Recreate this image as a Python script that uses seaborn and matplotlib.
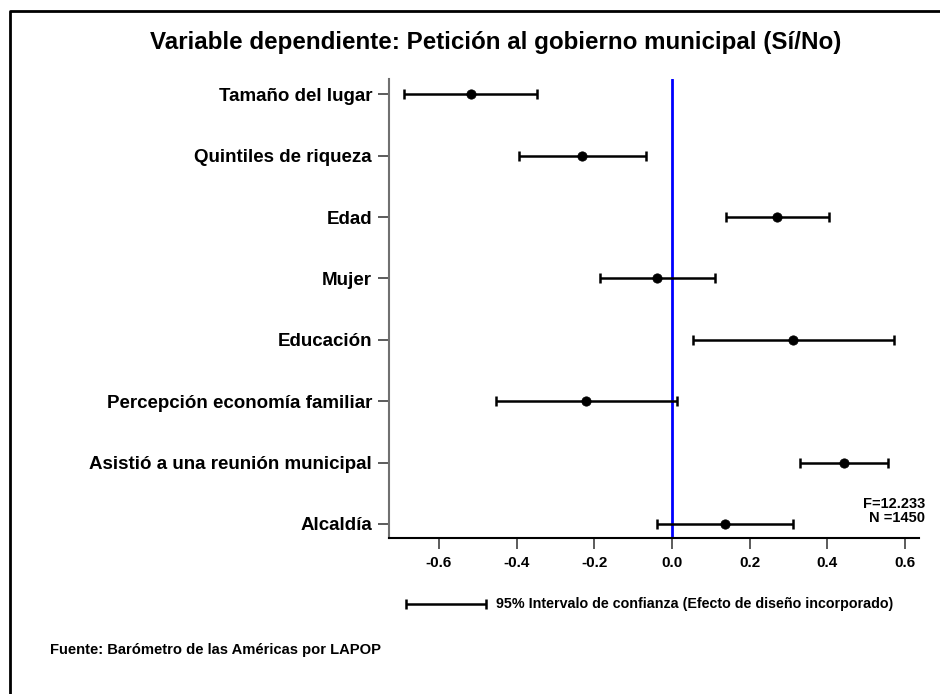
import pandas as pd
import matplotlib.pyplot as plt
import matplotlib.lines as mlines
import seaborn as sns

# Coefficients and 95% CIs
variables = ['Tamaño del lugar', 'Quintiles de riqueza', 'Edad', 'Mujer', 'Educación',
             'Percepción economía familiar', 'Asistió a una reunión municipal', 'Alcaldía']
coef = [-0.518, -0.232, 0.270, -0.039, 0.312, -0.221, 0.443, 0.136]
ci_low = [-0.690, -0.394, 0.138, -0.185, 0.053, -0.453, 0.329, -0.038]
ci_high = [-0.347, -0.068, 0.403, 0.111, 0.572, 0.012, 0.557, 0.311]
xticks = [-0.6, -0.4, -0.2, 0.0, 0.2, 0.4, 0.6]

df = pd.DataFrame({'var': variables, 'coef': coef, 'lo': ci_low, 'hi': ci_high})
df['pos'] = range(len(df))

sns.set_style('white')
plt.rcParams['font.family'] = ['Liberation Sans', 'DejaVu Sans']
plt.rcParams['font.weight'] = 'bold'
plt.rcParams['text.color'] = 'black'
plt.rcParams['xtick.color'] = 'black'
plt.rcParams['ytick.color'] = 'black'

fig = plt.figure(figsize=(9.4, 6.94), dpi=100)
ax = fig.add_axes([0.4135, 0.2248, 0.5642, 0.6614])

# outer frame (only top and left visible in the original)
fig.add_artist(mlines.Line2D([10 / 940, 10 / 940, 1.01], [-0.01, 1 - 11 / 694, 1 - 11 / 694],
                             transform=fig.transFigure, color='black', lw=2))

ax.axvline(0, color='#0000ff', lw=2, zorder=1)
ax.errorbar(df['coef'], df['pos'], xerr=[df['coef'] - df['lo'], df['hi'] - df['coef']],
            fmt='none', ecolor='black', elinewidth=1.8, capsize=3.6, capthick=1.8, zorder=2)
sns.scatterplot(data=df, x='coef', y='pos', color='black', s=45, edgecolor='black',
                zorder=3, ax=ax, legend=False)

ax.set_xlim(-0.729, 0.636)
ax.set_ylim(7.23, -0.25)
ax.set_yticks(df['pos'])
ax.set_yticklabels(df['var'], fontsize=13.5, fontweight='bold')
ax.set_xticks(xticks)
ax.set_xticklabels([f'{t:.1f}' for t in xticks], fontsize=11, fontweight='bold')
ax.set_xlabel('')
ax.set_ylabel('')
for s in ['top', 'right']:
    ax.spines[s].set_visible(False)
ax.spines['left'].set_color('#707070')
ax.spines['left'].set_linewidth(1.5)
ax.spines['bottom'].set_color('black')
ax.spines['bottom'].set_linewidth(1.5)
ax.tick_params(axis='y', length=8, width=1.2, color='#404040', pad=4, left=True)
ax.tick_params(axis='x', length=8, width=1.2, color='#404040', pad=5, bottom=True)

fig.text(925 / 940, 1 - 511 / 694, 'F=12.233\nN =1450', ha='right', va='center',
         fontsize=10.5, fontweight='bold', linespacing=0.95)

fig.text(496 / 940, 1 - 43 / 694, 'Variable dependiente: Petición al gobierno municipal (Sí/No)',
         ha='center', va='center', fontsize=17.4, fontweight='bold')

# legend for the CI bar
lax = fig.add_axes([406 / 940, 1 - 612 / 694, 80 / 940, 16 / 694])
lax.errorbar([0.5], [0], xerr=[0.5], fmt='none', ecolor='black', elinewidth=1.8,
             capsize=3.6, capthick=1.8, clip_on=False)
lax.set_xlim(0, 1)
lax.set_ylim(-1, 1)
lax.axis('off')
fig.text(496 / 940, 1 - 604 / 694, '95% Intervalo de confianza (Efecto de diseño incorporado)',
         ha='left', va='center', fontsize=10.3, fontweight='bold')

fig.text(50 / 940, 1 - 650 / 694, 'Fuente: Barómetro de las Américas por LAPOP',
         ha='left', va='center', fontsize=10.6, fontweight='bold')

fig.savefig('out.png', dpi=100)
